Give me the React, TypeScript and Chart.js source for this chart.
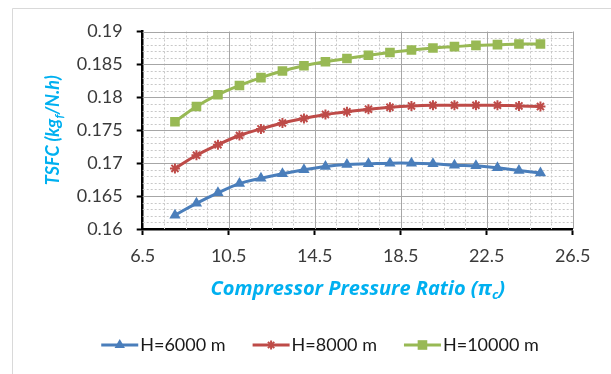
import React, { useEffect, useRef } from 'react';
import { Chart, registerables } from 'chart.js';

Chart.register(...registerables);

// ---- data ----
const pressureRatio = [8, 9, 10, 11, 12, 13, 14, 15, 16, 17, 18, 19, 20, 21, 22, 23, 24, 25];
const tsfc6000 = [0.1621, 0.1639, 0.1655, 0.1669, 0.1677, 0.1684, 0.169, 0.1695, 0.1698, 0.1699, 0.17, 0.17, 0.1699, 0.1697, 0.1696, 0.1693, 0.1689, 0.1685];
const tsfc8000 = [0.1692, 0.1712, 0.1728, 0.1742, 0.1752, 0.1761, 0.1768, 0.1774, 0.1778, 0.1782, 0.1785, 0.1787, 0.1788, 0.1788, 0.1788, 0.1788, 0.1787, 0.1786];
const tsfc10000 = [0.1763, 0.1786, 0.1804, 0.1818, 0.183, 0.184, 0.1848, 0.1854, 0.1859, 0.1864, 0.1868, 0.1872, 0.1875, 0.1877, 0.1879, 0.188, 0.1881, 0.1881];
const seriesLabels = ['H=6000 m', 'H=8000 m', 'H=10000 m'];
const xTickValues = [6.5, 10.5, 14.5, 18.5, 22.5, 26.5];
const yTickValues = [0.16, 0.165, 0.17, 0.175, 0.18, 0.185, 0.19];

const FONT = 'Lato, "Open Sans", sans-serif';
const TITLE_FONT = '"Open Sans", Lato, sans-serif';
const TITLE_COLOR = '#00B0F0';
const TEXT_COLOR = '#3a3a3a';
const COLORS = ['#4A7EBB', '#BE4B48', '#98B954'];
const STYLES = ['triangle', 'star', 'rect'];

type Part = { t: string; sub?: boolean };

function drawRich(ctx: CanvasRenderingContext2D, parts: Part[], size: number, family: string, cx: number, cy: number) {
  const fMain = `italic bold ${size}px ${family}`;
  const fSub = `italic bold ${Math.round(size * 0.65)}px ${family}`;
  let total = 0;
  const widths = parts.map((p) => {
    ctx.font = p.sub ? fSub : fMain;
    const w = ctx.measureText(p.t).width;
    total += w;
    return w;
  });
  let x = cx - total / 2;
  ctx.textAlign = 'left';
  ctx.textBaseline = 'middle';
  parts.forEach((p, i) => {
    ctx.font = p.sub ? fSub : fMain;
    ctx.fillText(p.t, x, cy + (p.sub ? size * 0.32 : 0));
    x += widths[i];
  });
}

function drawMarker(ctx: CanvasRenderingContext2D, style: string, color: string, x: number, y: number) {
  ctx.save();
  ctx.fillStyle = color;
  ctx.strokeStyle = color;
  if (style === 'triangle') {
    const r = 6;
    ctx.beginPath();
    ctx.moveTo(x, y - r);
    ctx.lineTo(x + r * 0.866, y + r * 0.5);
    ctx.lineTo(x - r * 0.866, y + r * 0.5);
    ctx.closePath();
    ctx.fill();
  } else if (style === 'rect') {
    const s = 4.8;
    ctx.fillRect(x - s, y - s, 2 * s, 2 * s);
  } else {
    const r = 4.5;
    ctx.lineWidth = 2;
    ctx.beginPath();
    ctx.moveTo(x - r, y);
    ctx.lineTo(x + r, y);
    ctx.moveTo(x, y - r);
    ctx.lineTo(x, y + r);
    ctx.moveTo(x - r * 0.7, y - r * 0.7);
    ctx.lineTo(x + r * 0.7, y + r * 0.7);
    ctx.moveTo(x - r * 0.7, y + r * 0.7);
    ctx.lineTo(x + r * 0.7, y - r * 0.7);
    ctx.stroke();
  }
  ctx.restore();
}

const decorPlugin = {
  id: 'decor',
  beforeDraw(chart: any) {
    const ctx = chart.ctx as CanvasRenderingContext2D;
    ctx.save();
    ctx.fillStyle = '#ffffff';
    ctx.fillRect(0, 0, chart.width, chart.height);
    ctx.strokeStyle = '#d9d9d9';
    ctx.lineWidth = 1;
    ctx.beginPath();
    ctx.moveTo(12.5, chart.height);
    ctx.lineTo(12.5, 8.5);
    ctx.lineTo(chart.width, 8.5);
    ctx.stroke();
    ctx.restore();
  },
  beforeDatasetsDraw(chart: any) {
    const ctx = chart.ctx as CanvasRenderingContext2D;
    const xs = chart.scales.x;
    const ys = chart.scales.y;
    const { left, right, top, bottom } = chart.chartArea;
    ctx.save();
    // minor dotted
    ctx.strokeStyle = '#c8c8c8';
    ctx.lineWidth = 1;
    ctx.setLineDash([2, 2]);
    ctx.beginPath();
    for (let v = 7.5; v < 26.5; v += 1) {
      if ((v - 6.5) % 4 === 0) continue;
      const px = Math.round(xs.getPixelForValue(v)) + 0.5;
      ctx.moveTo(px, top);
      ctx.lineTo(px, bottom);
    }
    for (let k = 1; k < 30; k++) {
      if (k % 5 === 0) continue;
      const py = Math.round(ys.getPixelForValue(0.16 + k * 0.001)) + 0.5;
      ctx.moveTo(left, py);
      ctx.lineTo(right, py);
    }
    ctx.stroke();
    // major solid
    ctx.setLineDash([]);
    ctx.strokeStyle = '#a6a6a6';
    ctx.beginPath();
    xTickValues.slice(1).forEach((v) => {
      const px = Math.round(xs.getPixelForValue(v)) + 0.5;
      ctx.moveTo(px, top);
      ctx.lineTo(px, bottom);
    });
    yTickValues.slice(1).forEach((v) => {
      const py = Math.round(ys.getPixelForValue(v)) + 0.5;
      ctx.moveTo(left, py);
      ctx.lineTo(right, py);
    });
    ctx.stroke();
    ctx.restore();
  },
  afterDraw(chart: any) {
    const ctx = chart.ctx as CanvasRenderingContext2D;
    const { left, right, top, bottom } = chart.chartArea;
    ctx.save();
    ctx.fillStyle = TITLE_COLOR;
    // x title
    drawRich(ctx, [{ t: 'Compressor Pressure Ratio (π' }, { t: 'c', sub: true }, { t: ')' }], 20, TITLE_FONT, (left + right) / 2, 289);
    // y title
    ctx.save();
    ctx.translate(53, (top + bottom) / 2);
    ctx.rotate(-Math.PI / 2);
    drawRich(ctx, [{ t: 'TSFC (kg' }, { t: 'f', sub: true }, { t: '/N.h)' }], 18, FONT, 0, 0);
    ctx.restore();

    // legend
    const lineLen = 37;
    const gapText = 2;
    const itemGap = 27;
    const lf = `18px ${FONT}`;
    ctx.font = lf;
    const tw = seriesLabels.map((s) => ctx.measureText(s).width);
    const total = tw.reduce((a, b) => a + b + lineLen + gapText, 0) + itemGap * (seriesLabels.length - 1);
    let x = 320 - total / 2;
    const ly = 345;
    seriesLabels.forEach((label, i) => {
      ctx.strokeStyle = COLORS[i];
      ctx.lineWidth = 3;
      ctx.beginPath();
      ctx.moveTo(x, ly);
      ctx.lineTo(x + lineLen, ly);
      ctx.stroke();
      drawMarker(ctx, STYLES[i], COLORS[i], x + lineLen / 2, ly);
      ctx.fillStyle = '#1a1a1a';
      ctx.font = lf;
      ctx.textAlign = 'left';
      ctx.textBaseline = 'middle';
      ctx.fillText(label, x + lineLen + gapText, ly);
      x += lineLen + gapText + tw[i] + itemGap;
    });
    ctx.restore();
  },
};

export default function App() {
  const canvasRef = useRef<HTMLCanvasElement | null>(null);

  useEffect(() => {
    if (!canvasRef.current) return;
    const series = [tsfc6000, tsfc8000, tsfc10000];
    const datasets = series.map((vals, i) => ({
      label: seriesLabels[i],
      data: pressureRatio.map((x, j) => ({ x, y: vals[j] })),
      borderColor: COLORS[i],
      backgroundColor: COLORS[i],
      borderWidth: 3,
      tension: 0.4,
      pointStyle: STYLES[i] as any,
      pointRadius: i === 0 ? 6.5 : i === 1 ? 5 : 6.8,
      pointBorderWidth: i === 1 ? 2 : 0,
      pointBackgroundColor: COLORS[i],
      pointBorderColor: COLORS[i],
    }));

    const chart = new Chart(canvasRef.current, {
      type: 'line',
      data: { datasets },
      options: {
        animation: false,
        responsive: true,
        maintainAspectRatio: false,
        layout: { padding: { top: 31.5, right: 38.3, left: 0, bottom: 0 } },
        plugins: {
          legend: { display: false },
          tooltip: { enabled: false },
        },
        scales: {
          x: {
            type: 'linear',
            min: 6.5,
            max: 26.5,
            afterBuildTicks: (s: any) => {
              s.ticks = xTickValues.map((v) => ({ value: v }));
            },
            afterFit: (s: any) => {
              s.height = 145;
            },
            grid: {
              drawOnChartArea: false,
              drawTicks: true,
              tickLength: 6,
              tickColor: '#000000',
              tickWidth: 2,
            },
            border: { color: '#000000', width: 2.5 },
            ticks: {
              padding: 10,
              color: TEXT_COLOR,
              font: { family: FONT, size: 18 },
              maxRotation: 0,
              callback: (v: any) => Number(v).toFixed(1),
            },
          },
          y: {
            type: 'linear',
            min: 0.16,
            max: 0.19,
            afterBuildTicks: (s: any) => {
              s.ticks = yTickValues.map((v) => ({ value: v }));
            },
            afterFit: (s: any) => {
              s.width = 142.7;
            },
            grid: {
              drawOnChartArea: false,
              drawTicks: true,
              tickLength: 6,
              tickColor: '#000000',
              tickWidth: 2,
            },
            border: { color: '#000000', width: 2.5 },
            ticks: {
              padding: 14,
              color: TEXT_COLOR,
              font: { family: FONT, size: 18 },
              callback: (v: any) => String(Number(Number(v).toFixed(3))),
            },
          },
        },
      },
      plugins: [decorPlugin],
    });
    return () => chart.destroy();
  }, []);

  return (
    <div style={{ position: 'fixed', left: 0, top: 0, width: 611, height: 374, background: '#fff' }}>
      <canvas ref={canvasRef} />
    </div>
  );
}
